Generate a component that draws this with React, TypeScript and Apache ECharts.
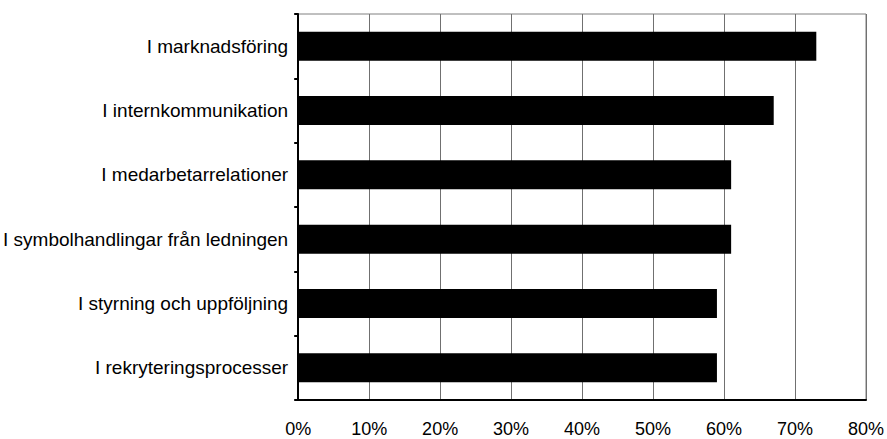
import React, { useEffect, useRef } from "react";
import * as echarts from "echarts";

const categories = [
  "I marknadsföring",
  "I internkommunikation",
  "I medarbetarrelationer",
  "I symbolhandlingar från ledningen",
  "I styrning och uppföljning",
  "I rekryteringsprocesser",
];
const values = [73, 67, 61, 61, 59, 59];
const xTicks = { min: 0, max: 80, interval: 10 };

export default function App() {
  const ref = useRef<HTMLDivElement>(null);
  useEffect(() => {
    document.body.style.margin = "0";
    if (!ref.current) return;
    const chart = echarts.init(ref.current, null, { renderer: "svg" });
    chart.setOption({
      animation: false,
      backgroundColor: "#ffffff",
      textStyle: { fontFamily: "Liberation Sans, Arial, sans-serif" },
      grid: {
        left: 298,
        right: 21,
        top: 14,
        bottom: 39,
        show: true,
        borderColor: "#808080",
        borderWidth: 1,
        backgroundColor: "transparent",
      },
      xAxis: {
        type: "value",
        min: xTicks.min,
        max: xTicks.max,
        interval: xTicks.interval,
        axisLine: { show: true, lineStyle: { color: "#000", width: 2 } },
        axisTick: { show: false },
        axisLabel: {
          formatter: "{value}%",
          color: "#000",
          fontSize: 18,
          margin: 20,
          fontFamily: "Liberation Sans, Arial, sans-serif",
        },
        splitLine: { show: true, lineStyle: { color: "#707070", width: 1 } },
      },
      yAxis: {
        type: "category",
        data: categories,
        inverse: true,
        axisLine: { show: true, lineStyle: { color: "#000", width: 2 } },
        axisTick: { show: true, length: 4, lineStyle: { color: "#000", width: 2 } },
        axisLabel: {
          color: "#000",
          fontSize: 19,
          margin: 10,
          fontFamily: "Liberation Sans, Arial, sans-serif",
        },
        splitLine: { show: false },
      },
      series: [
        {
          type: "bar",
          data: values,
          barCategoryGap: "55%",
          itemStyle: { color: "#000" },
        },
      ],
    });
    return () => chart.dispose();
  }, []);
  return <div ref={ref} style={{ width: 887, height: 439 }} />;
}
